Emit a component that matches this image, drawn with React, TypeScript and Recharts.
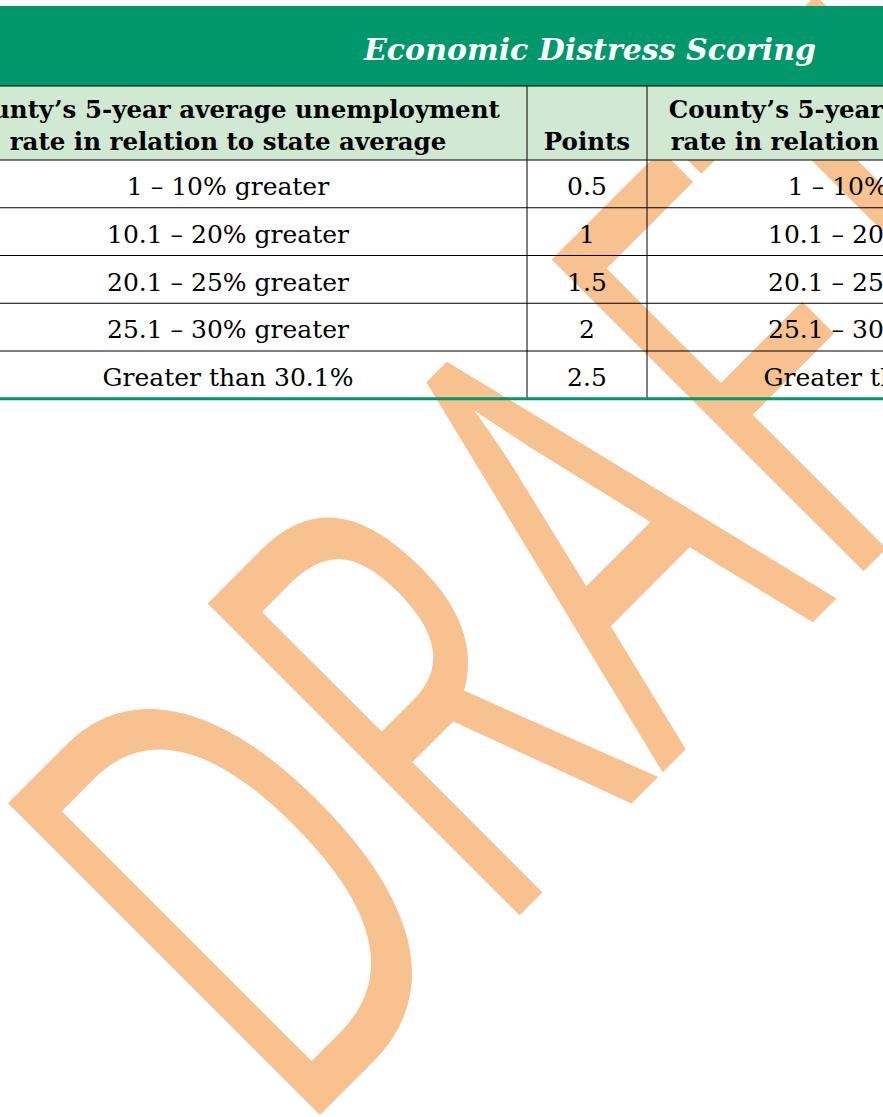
import React from "react";
import { Surface, Layer, Rectangle, Text } from "recharts";

// table content
const TITLE = "Economic Distress Scoring";
const HEADERS = [
  ["County’s 5-year average unemployment", "rate in relation to state average"],
  ["Points"],
  ["County’s 5-year average poverty", "rate in relation to state average"],
  ["Points"],
];
const UNEMPLOYMENT_RANGES = [
  "1 – 10% greater",
  "10.1 – 20% greater",
  "20.1 – 25% greater",
  "25.1 – 30% greater",
  "Greater than 30.1%",
];
const UNEMPLOYMENT_POINTS = [0.5, 1, 1.5, 2, 2.5];
const POVERTY_RANGES = [
  "1 – 10% greater",
  "10.1 – 20% greater",
  "20.1 – 25% greater",
  "25.1 – 30% greater",
  "Greater than 30.1%",
];
const POVERTY_POINTS = [0.5, 1, 1.5, 2, 2.5];
const WATERMARK = "DRAFT";

const W = 883;
const H = 1117;
const GREEN = "#00976A";
const LIGHT_GREEN = "#D1E8D3";
const SERIF = "'DejaVu Serif', serif";

// column edges (table is wider than the visible area)
const COL_EDGES = [-71, 527, 647, 1131, 1251];
const TITLE_TOP = 6;
const HEAD_TOP = 86;
const BODY_TOP = 160;
const ROW_H = 47.75;

export default function App() {
  const rows = UNEMPLOYMENT_RANGES.map((r, i) => [
    r,
    String(UNEMPLOYMENT_POINTS[i]),
    POVERTY_RANGES[i],
    String(POVERTY_POINTS[i]),
  ]);
  const bodyBottom = BODY_TOP + rows.length * ROW_H;
  const left = COL_EDGES[0];
  const right = COL_EDGES[COL_EDGES.length - 1];
  const colCenter = (c: number) => (COL_EDGES[c] + COL_EDGES[c + 1]) / 2;

  return (
    <div style={{ position: "absolute", left: 0, top: 0, width: W, height: H, background: "#fff" }}>
      <Surface width={W} height={H}>
        {/* watermark behind the table */}
        <Layer transform="translate(293,1142) rotate(-45) scale(0.63,1)">
          <Text
            x={0}
            y={0}
            fontFamily="'Open Sans', sans-serif"
            fontWeight={370}
            fontSize={618}
            fill="#F8C190"
          >
            {WATERMARK}
          </Text>
        </Layer>

        {/* title bar */}
        <Rectangle x={left} y={TITLE_TOP} width={right - left} height={HEAD_TOP - TITLE_TOP} fill={GREEN} />
        <Text
          x={(left + right) / 2}
          y={60}
          textAnchor="middle"
          fontFamily={SERIF}
          fontWeight="bold"
          fontStyle="italic"
          fontSize={30}
          fill="#fff"
        >
          {TITLE}
        </Text>

        {/* header row */}
        <Rectangle x={left} y={HEAD_TOP} width={right - left} height={BODY_TOP - HEAD_TOP} fill={LIGHT_GREEN} />
        {HEADERS.map((lines, c) =>
          lines.map((line, k) => (
            <Text
              key={`h${c}-${k}`}
              x={colCenter(c)}
              y={150 - (lines.length - 1 - k) * 32}
              textAnchor="middle"
              fontFamily={SERIF}
              fontWeight="bold"
              fontSize={24.5}
              fill="#000"
            >
              {line}
            </Text>
          ))
        )}

        {/* body */}
        {rows.map((row, r) =>
          row.map((cell, c) => (
            <Text
              key={`c${r}-${c}`}
              x={colCenter(c)}
              y={BODY_TOP + r * ROW_H + 35}
              textAnchor="middle"
              fontFamily={SERIF}
              fontSize={25}
              fill="#000"
            >
              {cell}
            </Text>
          ))
        )}

        {/* grid */}
        <line x1={left} x2={right} y1={HEAD_TOP} y2={HEAD_TOP} stroke="#000" strokeWidth={1} />
        {rows.map((_, r) => (
          <line
            key={`r${r}`}
            x1={left}
            x2={right}
            y1={BODY_TOP + r * ROW_H}
            y2={BODY_TOP + r * ROW_H}
            stroke="#000"
            strokeWidth={1}
          />
        ))}
        {COL_EDGES.map((x, i) => (
          <line key={`v${i}`} x1={x} x2={x} y1={HEAD_TOP} y2={bodyBottom} stroke="#000" strokeWidth={1} />
        ))}
        <line x1={left} x2={right} y1={bodyBottom} y2={bodyBottom} stroke={GREEN} strokeWidth={3} />
      </Surface>
    </div>
  );
}
